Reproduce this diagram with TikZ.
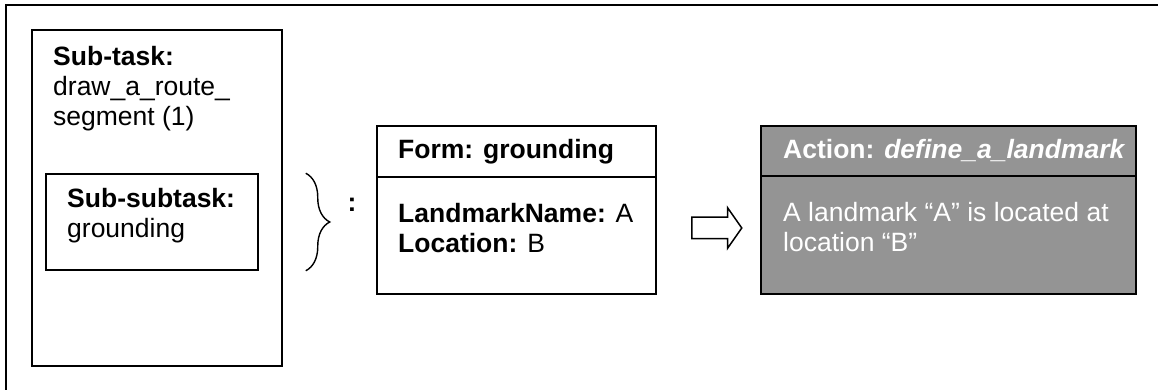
\documentclass[tikz,border=0pt]{standalone}
\usepackage{fontspec}
\setmainfont{Liberation Sans}
\usetikzlibrary{shapes.arrows,decorations.pathreplacing}

\definecolor{actgray}{gray}{0.58}

\tikzset{
	box/.style={draw, line width=1.5pt, inner sep=0pt},
	txt/.style={anchor=base west, inner sep=0pt, align=left, font=\fontsize{26.5}{30}\selectfont},
}

\begin{document}
\begin{tikzpicture}[x=1pt, y=1pt]
		\useasboundingbox (0, 0) rectangle (1158, 390);
		% frame, only top and left edge show
		\draw [line width=1.5pt] (6, 0) -- (6, 385) -- (1158, 385);
		% sub-task with its sub-subtask (base = last line)
		\node [box, minimum width=250pt, minimum height=336pt] (task) at (157, 192) {};
		\node [txt] (tasklbl) at (53, 264) {\textbf{Sub-task:}\\draw\_a\_route\_\\segment (1)};
		\node [box, minimum width=212pt, minimum height=96pt] (sub) at (152, 168) {};
		\node [txt] (sublbl) at (67, 152) {\textbf{Sub-subtask:}\\grounding};
		\draw [decorate, decoration={brace, amplitude=24pt}, line width=1.4pt]
			([xshift=47pt]sub.north east) -- ([xshift=47pt]sub.south east);
		\node [txt, anchor=base] (colon) at (352, 178) {\textbf{:}};
		% form
		\node [box, minimum width=279pt, minimum height=168pt] (form) at (516.5, 180) {};
		\draw [line width=1.5pt] (form.west |- 0, 213) -- (form.east |- 0, 213);
		\node [txt] (formhead) at (398, 231) {\textbf{Form: grounding}};
		\node [txt] (formbody) at (398, 137) {\textbf{LandmarkName:} A\\\textbf{Location:} B};
		% block arrow
		\node [draw, line width=1.5pt, single arrow, inner sep=10pt, minimum height=50pt,
			single arrow head extend=9.5pt, single arrow tip angle=110] (arr) at (713, 162) {};
		% action
		\node [box, fill=actgray, minimum width=375pt, minimum height=168pt] (action) at (948.5, 180) {};
		\draw [line width=1.5pt] (action.west |- 0, 214) -- (action.east |- 0, 214);
		\node [txt, text=white] (acthead) at (783, 231) {\textbf{Action: \textit{define\_a\_landmark}}};
		\node [txt, text=white] (actbody) at (783, 138) {A landmark “A” is located at\\location “B”};
	\end{tikzpicture}
\end{document}
